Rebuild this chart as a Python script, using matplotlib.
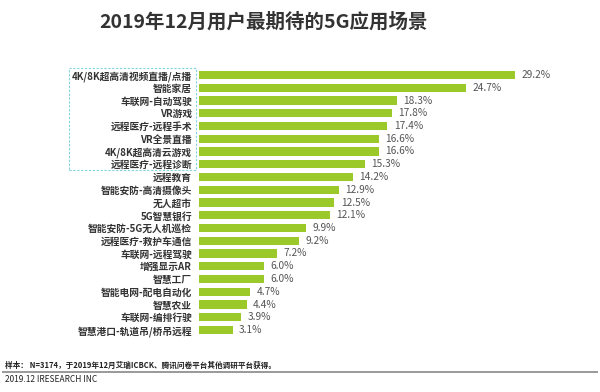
import matplotlib
matplotlib.use("Agg")
import matplotlib.pyplot as plt
from matplotlib.patches import Rectangle

plt.rcParams['font.family'] = ['Noto Sans CJK SC', 'DejaVu Sans']

categories = ["4K/8K超高清视频直播/点播", "智能家居", "车联网-自动驾驶", "VR游戏",
              "远程医疗-远程手术", "VR全景直播", "4K/8K超高清云游戏", "远程医疗-远程诊断",
              "远程教育", "智能安防-高清摄像头", "无人超市", "5G智慧银行",
              "智能安防-5G无人机巡检", "远程医疗-救护车通信", "车联网-远程驾驶", "增强显示AR",
              "智慧工厂", "智能电网-配电自动化", "智慧农业", "车联网-编排行驶",
              "智慧港口-轨道吊/桥吊远程"]
values = [29.2, 24.7, 18.3, 17.8, 17.4, 16.6, 16.6, 15.3, 14.2, 12.9, 12.5, 12.1,
          9.9, 9.2, 7.2, 6.0, 6.0, 4.7, 4.4, 3.9, 3.1]

W, H = 600, 392
fig = plt.figure(figsize=(6, 3.92), dpi=100)
fig.patch.set_facecolor('white')

x0 = 199 / W
xmax_val = 36.0
ax_w = (10.82 * xmax_val) / W
y_top = 75 - 12.75 / 2
y_bot = 330 + 12.75 / 2
ax = fig.add_axes([x0, 1 - y_bot / H, ax_w, (y_bot - y_top) / H])
n = len(categories)
ypos = list(range(n))
ax.barh(ypos, values, height=0.64, color='#9BC92A')
ax.set_ylim(n - 0.5, -0.5)
ax.set_xlim(0, xmax_val)
ax.set_yticks(ypos)
ax.set_yticklabels(categories, fontsize=7, fontweight='bold', color='#333333')
ax.tick_params(axis='y', length=0, pad=5)
ax.set_xticks([])
for s in ['top', 'right', 'bottom', 'left']:
    ax.spines[s].set_visible(False)
for y, v in zip(ypos, values):
    ax.text(v + 0.6, y, f"{v:.1f}%", va='center', ha='left', fontsize=7.3, color='#555555')

fig.text(264 / W, 1 - 22 / H, "2019年12月用户最期待的5G应用场景", ha='center', va='center',
         fontsize=14, fontweight='bold', color='#333333')

fig.patches.append(Rectangle((69 / W, 1 - 170 / H), (196 - 69) / W, (170 - 68) / H,
                             transform=fig.transFigure, fill=False, edgecolor='#7fd3e0',
                             linestyle=(0, (2, 1.5)), linewidth=0.8))

fig.text(5 / W, 1 - 365 / H, "样本： N=3174，于2019年12月艾瑞ICBCK、腾讯问卷平台其他调研平台获得。",
         ha='left', va='center', fontsize=5.5, fontweight='bold', color='#222222')
fig.add_artist(plt.Line2D([3 / W, 597 / W], [1 - 372 / H, 1 - 372 / H],
                          transform=fig.transFigure, color='#999999', linewidth=1.4))
fig.text(5 / W, 1 - 379 / H, "2019.12 IRESEARCH INC", ha='left', va='center',
         fontsize=6, color='#222222')

fig.savefig("out.png", dpi=100, facecolor='white')
